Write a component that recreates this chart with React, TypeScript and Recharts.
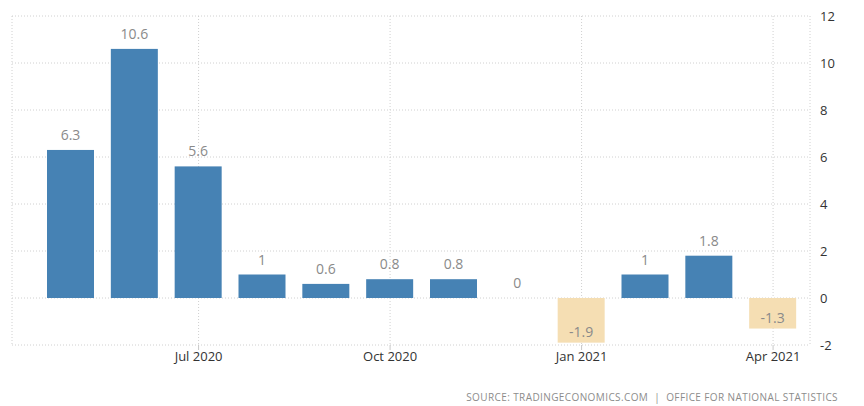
import { Bar, BarChart, CartesianGrid, XAxis, YAxis } from "recharts";

const months = [
  "May 2020",
  "Jun 2020",
  "Jul 2020",
  "Aug 2020",
  "Sep 2020",
  "Oct 2020",
  "Nov 2020",
  "Dec 2020",
  "Jan 2021",
  "Feb 2021",
  "Mar 2021",
  "Apr 2021",
];
const growth = [6.3, 10.6, 5.6, 1, 0.6, 0.8, 0.8, 0, -1.9, 1, 1.8, -1.3];
const xTicks = ["Jul 2020", "Oct 2020", "Jan 2021", "Apr 2021"];
const yTicks = [-2, 0, 2, 4, 6, 8, 10, 12];

const data = months.map((m, i) => ({ month: m, value: growth[i] }));

const FONT = "'Open Sans', 'DejaVu Sans', sans-serif";

// draws the bar and its value label together so the zero bar still gets "0"
function BarWithLabel(props: any) {
  const { x, y, width, height, value } = props;
  const v = Array.isArray(value) ? value[1] - value[0] : Number(value);
  const top = Math.min(y, y + height);
  const bottom = Math.max(y, y + height);
  const h = Math.abs(height);
  const neg = v < 0;
  return (
    <g>
      {h > 0 && (
        <rect
          x={x}
          y={top}
          width={width}
          height={h}
          fill={neg ? "#f5deb3" : "#4682b4"}
        />
      )}
      <text
        x={x + width / 2}
        y={neg ? bottom - 6 : top - 10}
        textAnchor="middle"
        fill="#8a8a8a"
        fontSize={14}
        fontFamily={FONT}
      >
        {props.payload ? props.payload.value : v}
      </text>
    </g>
  );
}

export default function App() {
  return (
    <div
      style={{
        position: "absolute",
        left: 0,
        top: 0,
        width: 864,
        height: 406,
        background: "#fff",
      }}
    >
      <BarChart
        width={864}
        height={406}
        data={data}
        margin={{ top: 16, right: 0, bottom: 31, left: 12 }}
      >
        <CartesianGrid stroke="#d0d0d0" strokeDasharray="1 2" />
        <XAxis
          dataKey="month"
          ticks={xTicks}
          interval={0}
          height={30}
          padding={{ left: 27, right: 5 }}
          axisLine={false}
          tickLine={{ stroke: "#c8c8c8" }}
          tickSize={5}
          tickMargin={2}
          tick={{ fill: "#333", fontSize: 13, fontFamily: FONT }}
        />
        <YAxis
          orientation="right"
          domain={[-2, 12]}
          ticks={yTicks}
          width={54}
          axisLine={false}
          tickLine={false}
          tickSize={0}
          tickMargin={10}
          tick={{ fill: "#333", fontSize: 13, fontFamily: FONT }}
        />
        <Bar
          dataKey="value"
          barSize={47}
          minPointSize={0}
          shape={BarWithLabel}
          isAnimationActive={false}
        />
      </BarChart>
      <div
        style={{
          position: "absolute",
          right: 26,
          top: 390,
          fontFamily: FONT,
          fontSize: 10,
          lineHeight: "14px",
          letterSpacing: 0.4,
          color: "#8c8c8c",
          whiteSpace: "pre",
        }}
      >
        {"SOURCE: TRADINGECONOMICS.COM  |  OFFICE FOR NATIONAL STATISTICS"}
      </div>
    </div>
  );
}
